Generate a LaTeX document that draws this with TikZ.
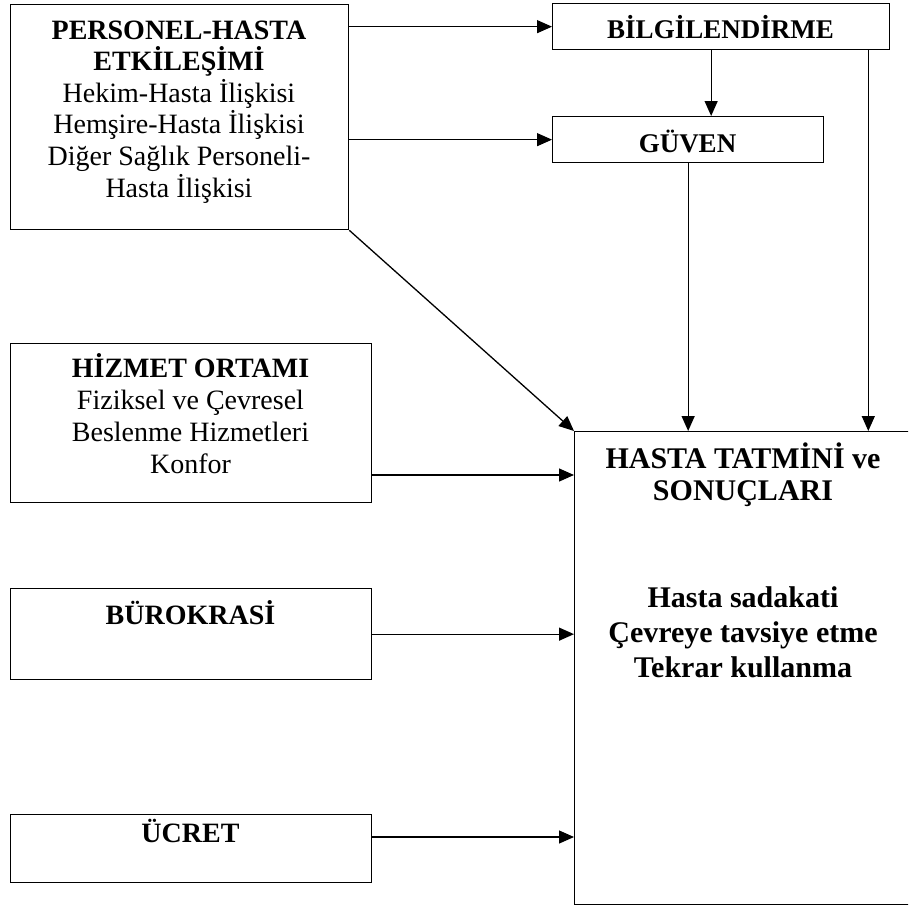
\documentclass[tikz,border=0pt]{standalone}
\usepackage{fontspec}
\setmainfont{Liberation Serif}
\usetikzlibrary{arrows.meta}
\begin{document}
\begin{tikzpicture}[x=1pt,y=-1pt,
  box/.style={draw,line width=1.3pt,rectangle,inner sep=0pt,anchor=north west},
  txt/.style={inner sep=0pt,anchor=base,align=center,
    font=\fontsize{28}{31.6}\selectfont},
  bigtxt/.style={txt,font=\fontsize{30}{32}\selectfont\bfseries},
  arr/.style={line width=1.3pt,-{Triangle[length=15pt,width=13pt]}}]
\useasboundingbox (0,0) rectangle (908,910);
\clip (0,0) rectangle (908,910);

% boxes
\node[box,minimum width=338pt,minimum height=225.5pt] (per) at (10,3.5) {};
\node[box,minimum width=337pt,minimum height=46pt] (bil) at (552,3) {};
\node[box,minimum width=271pt,minimum height=46pt] (guv) at (552,116) {};
\node[box,minimum width=361pt,minimum height=159pt] (hiz) at (10,343) {};
\node[box,minimum width=361pt,minimum height=91pt] (bur) at (10,588) {};
\node[box,minimum width=361pt,minimum height=68pt] (ucr) at (10,814) {};
\node[box,minimum width=338pt,minimum height=473pt] (has) at (574,431) {};

% texts (a multi-line node sits on the baseline of its last line)
\node[txt] (perT) at (179,197) {\textbf{PERSONEL-HASTA}\\\textbf{ETKİLEŞİMİ}\\Hekim-Hasta İlişkisi\\Hemşire-Hasta İlişkisi\\Diğer Sağlık Personeli-\\Hasta İlişkisi};
\node[txt,font=\fontsize{27}{30}\selectfont] (bilT) at (720.5,38) {\textbf{BİLGİLENDİRME}};
\node[txt,font=\fontsize{27}{30}\selectfont] (guvT) at (687.5,152) {\textbf{GÜVEN}};
\node[txt,font=\fontsize{28}{32}\selectfont] (hizT) at (190.5,473) {\textbf{HİZMET ORTAMI}\\Fiziksel ve Çevresel\\Beslenme Hizmetleri\\Konfor};
\node[txt] (burT) at (190.5,624) {\textbf{BÜROKRASİ}};
\node[txt] (ucrT) at (190.5,842) {\textbf{ÜCRET}};
\node[bigtxt] (hasT) at (743,500) {HASTA TATMİNİ ve\\SONUÇLARI};
\node[bigtxt,font=\fontsize{30}{35}\selectfont\bfseries] (hasS) at (743,677) {Hasta sadakati\\Çevreye tavsiye etme\\Tekrar kullanma};

% connector start points
\coordinate (hizOut) at (371,475);
\coordinate (ucrOut) at (371,837);

% connectors
\draw[arr] (per.east |- bil.west) -- (bil.west);
\draw[arr] (per.east |- guv.west) -- (guv.west);
\draw[arr] ([xshift=-10pt]bil.south) -- ([xshift=-10pt]bil.south |- guv.north);
\draw[arr] (guv.south) -- (guv.south |- has.north);
\draw[arr] ([xshift=-22pt]bil.south east) -- ([xshift=-22pt]bil.south east |- has.north);
\draw[arr] (per.south east) -- (has.north west);
\draw[arr] (hizOut) -- (hizOut -| has.west);
\draw[arr] (bur.east) -- (bur.east -| has.west);
\draw[arr] (ucrOut) -- (ucrOut -| has.west);
\end{tikzpicture}
\end{document}
